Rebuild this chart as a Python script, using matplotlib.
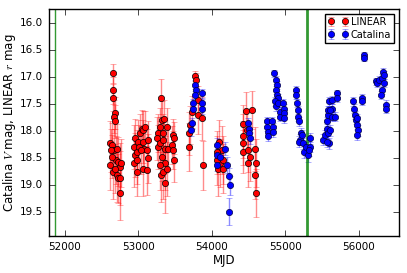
import matplotlib
matplotlib.use("Agg")
import matplotlib.pyplot as plt

# LINEAR photometry (MJD, r mag, error)
linear_mjd = [52662, 52662, 52662, 52684, 52671, 52684, 52616, 52639, 52671, 52707,
              52698, 52639, 52616, 52653, 52730, 52752, 52762, 52707, 52730, 52752,
              52684, 52752, 52626,
              52957, 52948, 52957, 52948, 52980, 52980, 52989, 53002, 53016, 53025,
              53048, 53061, 53070, 53079, 53070, 53116, 53138, 53138, 53125, 53093, 53034,
              53310, 53274, 53297, 53320, 53351, 53252, 53274, 53297, 53333, 53365,
              53388, 53320, 53365, 53297, 53306, 53342, 53365, 53397, 53342, 53410,
              53478, 53487, 53456, 53469, 53487,
              53775, 53782, 53809, 53728, 53705, 53695, 53695, 53818, 53864, 53878,
              54104, 54136, 54113, 54090, 54158, 54149, 54068, 54080,
              54467, 54544, 54430, 54430, 54422, 54422, 54476, 54498, 54498, 54521,
              54589, 54603, 54594, 54598]
linear_mag = [16.94, 17.25, 17.39, 17.67, 17.74, 17.83, 18.22, 18.26, 18.36, 18.33,
              18.54, 18.48, 18.64, 18.76, 18.57, 18.67, 18.60, 18.82, 18.88, 18.88,
              18.70, 19.15, 18.36,
              18.13, 18.30, 18.45, 18.60, 18.39, 18.54, 18.76, 18.20, 18.30, 18.05,
              17.96, 17.99, 18.20, 18.33, 18.70, 18.36, 18.17, 18.51, 18.73, 17.93, 18.36,
              17.39, 18.04, 17.93, 17.80, 17.79, 18.14, 18.30, 18.23, 18.17, 18.33,
              17.93, 18.48, 18.60, 18.64, 18.82, 18.76, 18.97, 18.70, 18.05, 18.33,
              18.08, 18.14, 18.26, 18.36, 18.54,
              16.99, 17.06, 17.43, 17.65, 17.89, 18.05, 18.30, 17.71, 17.77, 18.64,
              18.20, 18.36, 18.60, 18.70, 18.54, 18.70, 18.40, 18.55,
              17.63, 17.62, 17.88, 18.10, 18.23, 18.39, 17.99, 18.36, 18.60, 18.48,
              18.34, 18.60, 18.82, 19.15]
linear_err = [0.18, 0.25, 0.25, 0.30, 0.30, 0.30, 0.40, 0.40, 0.40, 0.45,
              0.45, 0.40, 0.45, 0.50, 0.45, 0.45, 0.45, 0.50, 0.45, 0.50,
              0.45, 0.50, 0.40,
              0.35, 0.40, 0.40, 0.45, 0.40, 0.45, 0.45, 0.40, 0.40, 0.35,
              0.35, 0.35, 0.40, 0.40, 0.50, 0.40, 0.35, 0.45, 0.45, 0.30, 0.45,
              0.35, 0.35, 0.35, 0.35, 0.35, 0.40, 0.40, 0.40, 0.40, 0.45,
              0.35, 0.45, 0.50, 0.45, 0.50, 0.50, 0.55, 0.50, 0.35, 0.40,
              0.30, 0.30, 0.35, 0.35, 0.40,
              0.10, 0.12, 0.25, 0.30, 0.35, 0.40, 0.45, 0.35, 0.40, 0.45,
              0.40, 0.45, 0.45, 0.50, 0.45, 0.45, 0.40, 0.45,
              0.35, 0.35, 0.35, 0.40, 0.40, 0.40, 0.40, 0.40, 0.45, 0.45,
              0.40, 0.45, 0.45, 0.45]

# Catalina photometry (MJD, V mag, error)
css_mjd = [53773, 53782, 53773, 53750, 53741, 53728, 53718, 53864, 53864, 53873,
           54068, 54068, 54068, 54113, 54181, 54204, 54240, 54249, 54240,
           54512, 54512, 54521, 54498,
           54757, 54757, 54771, 54771, 54816, 54838, 54838,
           54852, 54871, 54884, 54871, 54884, 54898, 54861, 54871, 54907,
           54929, 54929, 54974, 54988, 54988, 54988,
           55143, 55143, 55157, 55170, 55170, 55184, 55211, 55198, 55184,
           55233, 55247, 55261, 55279, 55315, 55338, 55338, 55324,
           55519, 55542, 55565, 55565, 55578, 55587, 55596, 55633, 55642, 55642,
           55596, 55578, 55565, 55610, 55610, 55678, 55701, 55701,
           55927, 55936, 55950, 55963, 55981, 55995, 55981, 55972, 56041, 56041,
           56077, 56077,
           56236, 56254, 56281, 56313, 56336, 56345, 56345, 56313, 56304, 56372, 56372]
css_mag = [17.15, 17.25, 17.34, 17.49, 17.59, 17.86, 17.99, 17.31, 17.49, 17.59,
           18.26, 18.45, 18.63, 18.48, 18.33, 18.63, 18.84, 19.01, 19.50,
           17.96, 18.05, 18.14, 17.86,
           17.83, 17.93, 18.02, 18.09, 17.83, 17.93, 18.02,
           16.94, 17.06, 17.15, 17.25, 17.34, 17.40, 17.46, 17.55, 17.49,
           17.65, 17.74, 17.49, 17.59, 17.68, 17.77,
           17.25, 17.34, 17.49, 17.62, 17.74, 17.83, 18.05, 18.17, 18.20,
           18.08, 18.23, 18.39, 18.30, 18.45, 18.14, 18.30, 18.36,
           18.17, 18.08, 17.96, 17.83, 17.71, 17.62, 17.46, 17.43, 17.59, 17.74,
           18.23, 18.05, 18.20, 17.62, 17.99, 17.74, 17.31, 17.40,
           17.46, 17.59, 17.71, 17.80, 17.89, 17.99, 18.08, 17.77, 17.40, 17.46,
           16.60, 16.66,
           17.09, 17.12, 17.06, 17.03, 16.91, 16.97, 17.12, 17.25, 17.34, 17.52, 17.59]
css_err = [0.08, 0.08, 0.08, 0.08, 0.08, 0.10, 0.10, 0.08, 0.08, 0.10,
           0.12, 0.12, 0.12, 0.12, 0.12, 0.15, 0.15, 0.18, 0.25,
           0.10, 0.10, 0.10, 0.10,
           0.08, 0.08, 0.10, 0.10, 0.08, 0.08, 0.10,
           0.07, 0.07, 0.07, 0.08, 0.08, 0.08, 0.08, 0.08, 0.08,
           0.08, 0.08, 0.08, 0.08, 0.08, 0.08,
           0.07, 0.07, 0.08, 0.08, 0.08, 0.08, 0.10, 0.10, 0.10,
           0.10, 0.10, 0.12, 0.10, 0.12, 0.10, 0.10, 0.10,
           0.10, 0.10, 0.08, 0.08, 0.08, 0.08, 0.08, 0.08, 0.08, 0.08,
           0.10, 0.10, 0.10, 0.08, 0.10, 0.08, 0.07, 0.07,
           0.08, 0.08, 0.08, 0.08, 0.08, 0.10, 0.10, 0.08, 0.07, 0.07,
           0.06, 0.06,
           0.07, 0.07, 0.07, 0.07, 0.07, 0.07, 0.07, 0.07, 0.08, 0.08, 0.08]

# vertical reference epochs
marker_mjd = [51872, 55291]
marker_lw = [1.0, 2.0]

plt.style.use("classic")
plt.rcParams["font.size"] = 7.5

fig = plt.figure(figsize=(4.07, 2.73), dpi=100, facecolor="white")
ax = fig.add_axes([0.12, 0.135, 0.86, 0.832])

ax.errorbar(linear_mjd, linear_mag, yerr=linear_err, fmt="o", color="red",
            mec="black", ms=4.5, ecolor=(1, 0, 0, 0.45), elinewidth=1,
            capsize=2, label="LINEAR")
ax.errorbar(css_mjd, css_mag, yerr=css_err, fmt="o", color="blue",
            mec="#000044", ms=4.5, ecolor=(0, 0, 1, 0.45), elinewidth=1,
            capsize=2, label="Catalina")

for m, lw in zip(marker_mjd, marker_lw):
    ax.axvline(m, color="green", lw=lw, alpha=0.8)

ax.set_xlim(51786, 56547)
ax.set_ylim(19.95, 15.75)
ax.set_xticks([52000, 53000, 54000, 55000, 56000])
ax.set_yticks([16.0, 16.5, 17.0, 17.5, 18.0, 18.5, 19.0, 19.5])
ax.set_yticklabels(["16.0", "16.5", "17.0", "17.5", "18.0", "18.5", "19.0", "19.5"])
ax.set_xlabel("MJD", fontsize=8.5, labelpad=2)
ax.set_ylabel("Catalina $V$ mag, LINEAR $r$ mag", fontsize=8.5)
ax.yaxis.set_label_coords(-0.088, 0.5)

leg = ax.legend(loc="upper right", numpoints=2, fontsize=7, handletextpad=0.3,
                borderpad=0.3, labelspacing=0.3)

fig.savefig("out.png", dpi=100, facecolor="white")
